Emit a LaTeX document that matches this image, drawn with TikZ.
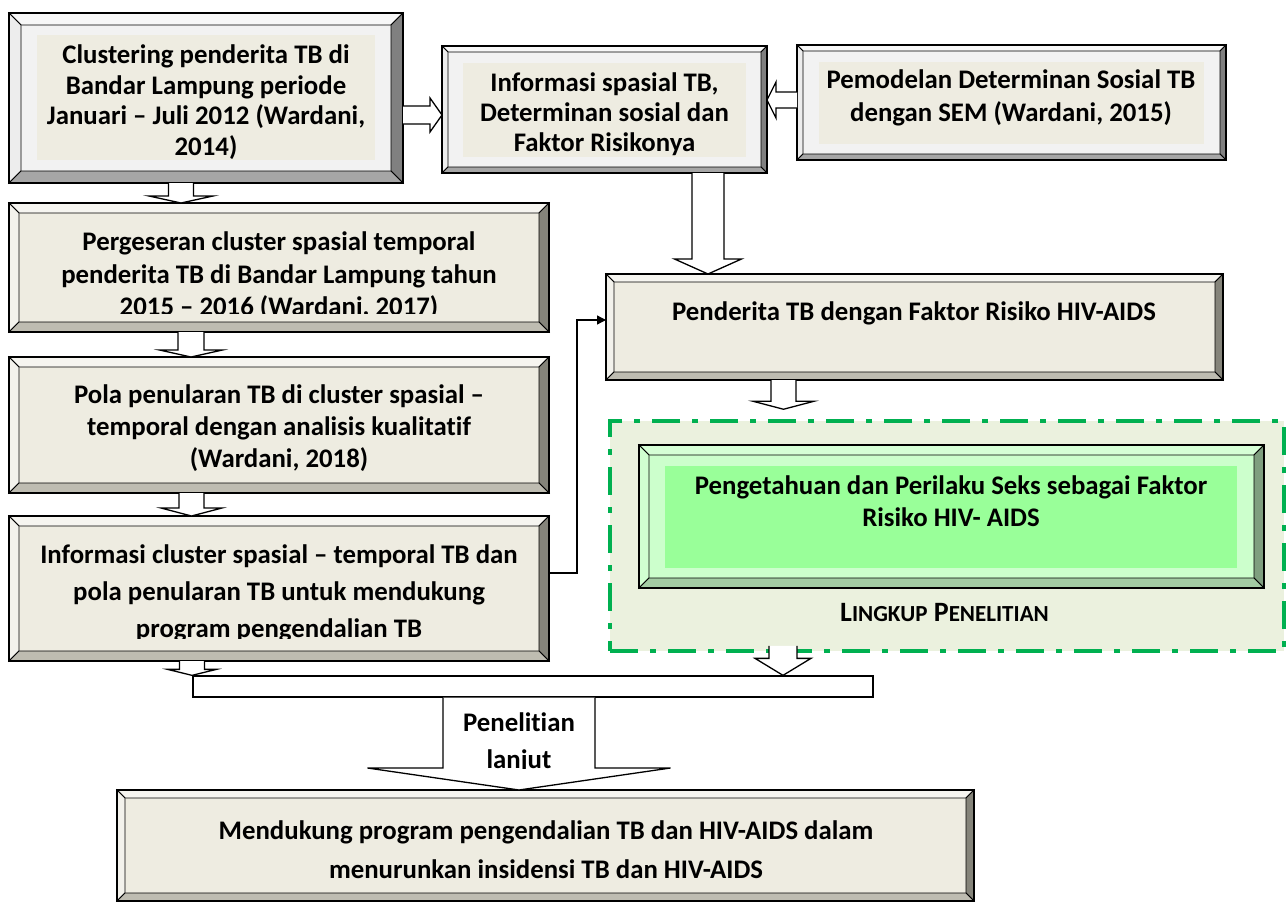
\documentclass[tikz,border=0pt]{standalone}
\usepackage{fontspec}
\setmainfont{Carlito}[Ligatures={NoCommon}]
\usetikzlibrary{fit,calc,arrows.meta}
\definecolor{grayface}{HTML}{F2F2F2}
\definecolor{graytop}{HTML}{F7F7F7}
\definecolor{grayleft}{HTML}{EDEDED}
\definecolor{grayright}{HTML}{808080}
\definecolor{graybot}{HTML}{A6A6A6}
\definecolor{beigeface}{HTML}{EEECE1}
\definecolor{beigetop}{HTML}{F6F5F0}
\definecolor{beigeleft}{HTML}{F3F2EC}
\definecolor{beigeright}{HTML}{85847A}
\definecolor{beigebot}{HTML}{BEBCB1}
\definecolor{greenface}{HTML}{CCFFCC}
\definecolor{greentop}{HTML}{D6FFD6}
\definecolor{greenleft}{HTML}{D1FFD1}
\definecolor{greenright}{HTML}{7F9F7F}
\definecolor{greenbot}{HTML}{A3CCA3}
\definecolor{greenfill}{HTML}{99FF99}
\definecolor{zonefill}{HTML}{EBF1DE}
\definecolor{zoneline}{HTML}{00B050}
\tikzset{
  bevline/.style={draw=black, line width=0.9pt},
  blk/.style={draw=black, fill=white, line width=1.3pt, line join=miter},
  txt/.style={inner sep=0pt, align=center, font=\bfseries},
  conn/.style={draw=black, line width=1.3pt, -{Triangle[length=9pt,width=9pt]}},
  zonebox/.style={draw=zoneline, line width=3.5pt, fill=zonefill,
    dash pattern=on 28pt off 12pt on 6pt off 12pt},
}
% #1 name, #2 nw, #3 se, #4 bevel depth, #5 colour scheme
\newcommand\bevbox[5]{%
  \path (#2) coordinate (#1-nw) (#3) coordinate (#1-se);
  \node[inner sep=0pt, outer sep=0pt, fit=(#1-nw)(#1-se)] (#1) {};
  \fill[#5face] (#1.north west) rectangle (#1.south east);
  \filldraw[fill=#5top, bevline] (#1.north west) -- (#1.north east) -- ([shift={(-#4,#4)}]#1.north east) -- ([shift={(#4,#4)}]#1.north west) -- cycle;
  \filldraw[fill=#5left, bevline] (#1.north west) -- ([shift={(#4,#4)}]#1.north west) -- ([shift={(#4,-#4)}]#1.south west) -- (#1.south west) -- cycle;
  \filldraw[fill=#5right, bevline] (#1.north east) -- ([shift={(-#4,#4)}]#1.north east) -- ([shift={(-#4,-#4)}]#1.south east) -- (#1.south east) -- cycle;
  \filldraw[fill=#5bot, bevline] (#1.south west) -- ([shift={(#4,-#4)}]#1.south west) -- ([shift={(-#4,-#4)}]#1.south east) -- (#1.south east) -- cycle;
  \draw[line width=2pt] (#1.north west) rectangle (#1.south east);
}
% #1 x, #2 from, #3 to (tip), #4 shaft half width, #5 head half width, #6 head length
\newcommand\blockdown[6]{%
  \draw[blk] let \p1=(#1,0 |- #2), \p2=(#1,0 |- #3) in
   (\x1-#4pt,\y1) -- (\x1-#4pt,\y2+#6pt) -- (\x1-#5pt,\y2+#6pt) -- (\x1,\y2)
   -- (\x1+#5pt,\y2+#6pt) -- (\x1+#4pt,\y2+#6pt) -- (\x1+#4pt,\y1);}
\newcommand\blockright[6]{%
  \draw[blk] let \p1=(#2 |- 0,#1), \p2=(#3 |- 0,#1) in
   (\x1,\y1+#4pt) -- (\x2-#6pt,\y1+#4pt) -- (\x2-#6pt,\y1+#5pt) -- (\x2,\y1)
   -- (\x2-#6pt,\y1-#5pt) -- (\x2-#6pt,\y1-#4pt) -- (\x1,\y1-#4pt);}
\newcommand\blockleft[6]{%
  \draw[blk] let \p1=(#2 |- 0,#1), \p2=(#3 |- 0,#1) in
   (\x1,\y1+#4pt) -- (\x2+#6pt,\y1+#4pt) -- (\x2+#6pt,\y1+#5pt) -- (\x2,\y1)
   -- (\x2+#6pt,\y1-#5pt) -- (\x2+#6pt,\y1-#4pt) -- (\x1,\y1-#4pt);}
\begin{document}
\begin{tikzpicture}[x=1pt, y=-1pt]
\useasboundingbox[fill=white] (0,0) rectangle (1288,902);

% ---- top row
\bevbox{b1}{9,13}{403,183}{12}{gray}
\fill[beigeface] (37,35) rectangle (375,160);
\begin{scope}
  \clip (37,35) rectangle (375,160);
  \node[txt, font=\fontsize{26.8}{30.5}\selectfont\bfseries] (t1) at (206,102) {Clustering penderita TB di\\Bandar Lampung periode\\Januari – Juli 2012 (Wardani,\\2014)};
\end{scope}

\bevbox{b2}{442,46}{767,173}{6}{gray}
\fill[beigeface] (463,63) rectangle (746,157);
\node[txt, font=\fontsize{26.8}{30}\selectfont\bfseries] (t2) at (604.5,114) {Informasi spasial TB,\\Determinan sosial dan\\Faktor Risikonya};

\bevbox{b3}{797,45}{1226,160}{6}{gray}
\fill[beigeface] (819,62) rectangle (1204,144);
\node[txt, font=\fontsize{26.8}{33}\selectfont\bfseries] (t3) at (1011,98) {Pemodelan Determinan Sosial TB\\dengan SEM (Wardani, 2015)};

% ---- left column
\bevbox{perg}{9,203}{549,332}{10}{beige}
\begin{scope}
  \clip (19,213) rectangle (539,313);
  \node[txt, font=\fontsize{26.8}{32.5}\selectfont\bfseries] (t4) at (279,276) {Pergeseran cluster spasial temporal\\penderita TB di Bandar Lampung tahun\\2015 – 2016 (Wardani, 2017)};
\end{scope}

\bevbox{pola}{9,357}{549,493}{10}{beige}
\node[txt, font=\fontsize{26.8}{32}\selectfont\bfseries] (t5) at (279,428) {Pola penularan TB di cluster spasial –\\temporal dengan analisis kualitatif\\(Wardani, 2018)};

\bevbox{info}{9,516}{549,661}{10}{beige}
\begin{scope}
  \clip (19,526) rectangle (539,638);
  \node[txt, font=\fontsize{26.8}{37}\selectfont\bfseries] (t6) at (279,593) {Informasi cluster spasial – temporal TB dan\\pola penularan TB untuk mendukung\\program pengendalian TB};
\end{scope}

% ---- right column
\bevbox{pend}{606,274}{1223,380}{8}{beige}
\node[txt, font=\fontsize{26.8}{30}\selectfont\bfseries] (t7) at (914,313) {Penderita TB dengan Faktor Risiko HIV-AIDS};

\node[zonebox, inner sep=0pt, fit={(610,421) (1284,651)}] (zone) {};
\bevbox{green}{639,445}{1264,588}{10}{green}
\fill[greenfill] (665,466) rectangle (1237,568);
\node[txt, font=\fontsize{26.8}{32}\selectfont\bfseries] (t8) at (951,501) {Pengetahuan dan Perilaku Seks sebagai Faktor\\Risiko HIV- AIDS};
\node[txt] (scope) at (944.5,612) {{\fontsize{28}{28}\selectfont L}{\fontsize{23}{28}\selectfont INGKUP}{\fontsize{28}{28}\selectfont\ P}{\fontsize{23}{28}\selectfont ENELITIAN}};

% ---- bottom
\node[draw=black, fill=white, line width=1.3pt, inner sep=0pt, fit={(193,676) (873,697)}] (bar) {};
\bevbox{bot}{117,790}{974,901}{8}{beige}
\node[txt, font=\fontsize{26.8}{39}\selectfont\bfseries] (t9) at (546,850) {Mendukung program pengendalian TB dan HIV-AIDS dalam\\menurunkan insidensi TB dan HIV-AIDS};

% ---- block arrows
\blockright{115}{b1.east}{b2.west}{9}{17}{12}
\blockleft{100}{b3.west}{b2.east}{8}{18}{9}
\blockdown{708}{b2.south}{pend.north}{16}{33.5}{15}
\blockdown{181}{b1.south}{perg.north}{12.5}{32}{7}
\blockdown{191}{perg.south}{pola.north}{13}{31.5}{7}
\blockdown{191.5}{pola.south}{info.north}{12.5}{30.5}{8}
\blockdown{192}{info.south}{bar.north}{12.5}{24.5}{6}
\coordinate (zonein) at ($(zone.north)+(0,-10)$);
\blockdown{783.5}{pend.south}{zonein}{12.5}{30.5}{8}
\coordinate (zoneout) at ($(zone.south)+(0,-7)$);
\blockdown{783}{zoneout}{bar.north}{14}{28}{17}
\blockdown{519}{bar.south}{bot.north}{76}{151.5}{22}
\begin{scope}
  \clip (444,699) rectangle (594,768);
  \node[txt, font=\fontsize{26.8}{37}\selectfont\bfseries] (t10) at (519,743) {Penelitian\\lanjut};
\end{scope}

% ---- connector
\draw[conn] (info.east |- 0,573) -- (577,573) -- (577,320) -- (pend.west |- 0,320);
\end{tikzpicture}
\end{document}
